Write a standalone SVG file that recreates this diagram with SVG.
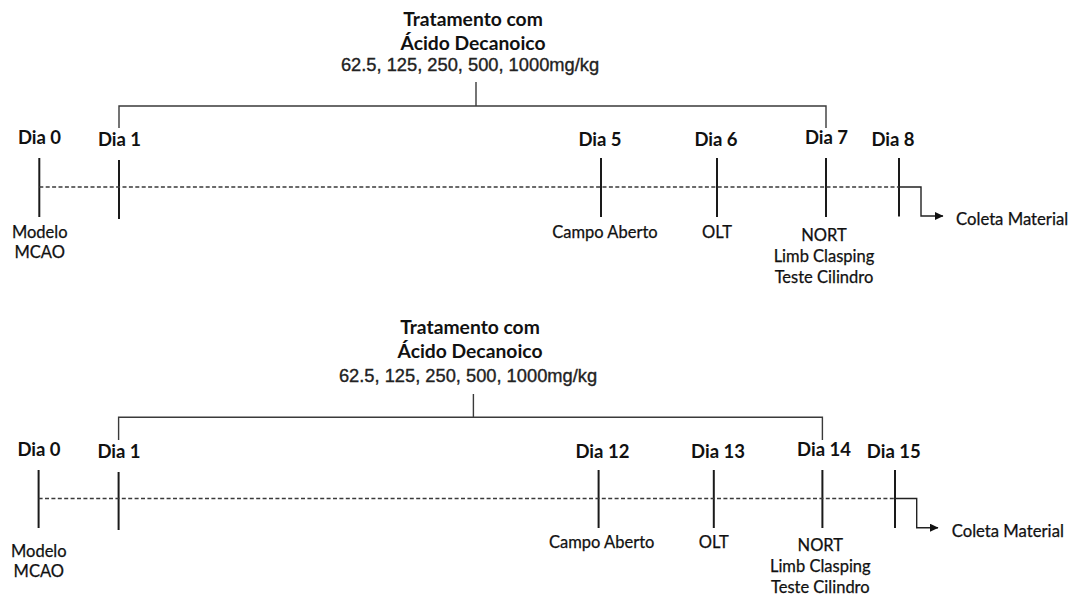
<svg xmlns="http://www.w3.org/2000/svg" width="1070" height="596" viewBox="0 0 1070 596">
<defs>
<marker id="ah" markerWidth="9" markerHeight="8" refX="8" refY="4" orient="auto" markerUnits="userSpaceOnUse">
<path d="M0,0 L8.5,4 L0,8 Z" fill="#111"/>
</marker>
<style>
.title{font-family:Lato,"Liberation Sans",sans-serif;font-weight:700;font-size:19.3px;fill:#111;text-anchor:middle}
.dose{font-family:"Liberation Sans",Arial,sans-serif;font-size:18.3px;fill:#222;stroke:#222;stroke-width:0.35;text-anchor:middle}
.day{font-family:Lato,"Liberation Sans",sans-serif;font-weight:700;font-size:18.5px;fill:#111;text-anchor:middle}
.lbl{font-family:Lato,"Liberation Sans",sans-serif;font-size:16.5px;fill:#111;stroke:#111;stroke-width:0.25;text-anchor:middle}
.lbl-l{font-family:Lato,"Liberation Sans",sans-serif;font-size:16.7px;fill:#111;stroke:#111;stroke-width:0.25}
.tick{stroke:#1a1a1a;stroke-width:2;fill:none}
.br{stroke:#3a3a3a;stroke-width:1.4;fill:none}
.dash{stroke:#3a3a3a;stroke-width:1.4;stroke-dasharray:4 2.4;fill:none}
.arr{stroke:#222;stroke-width:1.4;fill:none}
</style>
</defs>

<!-- ===== Top panel ===== -->
<g id="top-treatment">
<text class="title" x="473" y="26">Tratamento com</text>
<text class="title" x="473" y="50">Ácido Decanoico</text>
<text class="dose" x="470" y="71">62.5, 125, 250, 500, 1000mg/kg</text>
</g>
<g id="top-dia0">
<text class="day" x="39.5" y="144">Dia 0</text>
<line class="tick" x1="39.3" y1="158" x2="39.3" y2="217"/>
<text class="lbl" x="39.7" y="237.7">Modelo</text>
<text class="lbl" x="39.7" y="258.3">MCAO</text>
</g>
<g id="top-dia1">
<text class="day" x="119.5" y="146">Dia 1</text>
<line class="tick" x1="119" y1="160" x2="119" y2="219"/>
</g>
<g id="top-dia5">
<text class="day" x="600" y="146">Dia 5</text>
<line class="tick" x1="601" y1="158" x2="601" y2="217"/>
<text class="lbl" x="605" y="237.7">Campo Aberto</text>
</g>
<g id="top-dia6">
<text class="day" x="716" y="146">Dia 6</text>
<line class="tick" x1="717" y1="158" x2="717" y2="217"/>
<text class="lbl" x="717" y="237.7">OLT</text>
</g>
<g id="top-dia7">
<text class="day" x="826.5" y="143.5">Dia 7</text>
<line class="tick" x1="826" y1="158" x2="826" y2="217"/>
<text class="lbl" x="824" y="240.7">NORT</text>
<text class="lbl" x="824" y="261.7">Limb Clasping</text>
<text class="lbl" x="824" y="282.7">Teste Cilindro</text>
</g>
<g id="top-dia8">
<text class="day" x="893" y="146">Dia 8</text>
<line class="tick" x1="899" y1="158" x2="899" y2="216.5"/>
</g>
<g id="top-coleta">
<text class="lbl-l" x="956" y="225">Coleta Material</text>
</g>

<!-- ===== Bottom panel ===== -->
<g id="bottom-treatment">
<text class="title" x="470" y="334">Tratamento com</text>
<text class="title" x="470" y="358">Ácido Decanoico</text>
<text class="dose" x="468" y="381.7">62.5, 125, 250, 500, 1000mg/kg</text>
</g>
<g id="bottom-dia0">
<text class="day" x="39" y="456">Dia 0</text>
<line class="tick" x1="38.6" y1="470" x2="38.6" y2="528"/>
<text class="lbl" x="38.8" y="556.5">Modelo</text>
<text class="lbl" x="38.8" y="577">MCAO</text>
</g>
<g id="bottom-dia1">
<text class="day" x="119" y="458.3">Dia 1</text>
<line class="tick" x1="118.6" y1="472" x2="118.6" y2="530"/>
</g>
<g id="bottom-dia12">
<text class="day" x="602.4" y="458.3">Dia 12</text>
<line class="tick" x1="598.6" y1="470" x2="598.6" y2="528"/>
<text class="lbl" x="601.7" y="548.3">Campo Aberto</text>
</g>
<g id="bottom-dia13">
<text class="day" x="718" y="458.3">Dia 13</text>
<line class="tick" x1="713.8" y1="470" x2="713.8" y2="528"/>
<text class="lbl" x="713.8" y="548.3">OLT</text>
</g>
<g id="bottom-dia14">
<text class="day" x="824" y="455.5">Dia 14</text>
<line class="tick" x1="822.4" y1="470" x2="822.4" y2="528"/>
<text class="lbl" x="820.3" y="550.7">NORT</text>
<text class="lbl" x="820.3" y="571.7">Limb Clasping</text>
<text class="lbl" x="820.3" y="592.7">Teste Cilindro</text>
</g>
<g id="bottom-dia15">
<text class="day" x="893.8" y="458.3">Dia 15</text>
<line class="tick" x1="895" y1="470" x2="895" y2="528"/>
</g>
<g id="bottom-coleta">
<text class="lbl-l" x="951.7" y="536.7">Coleta Material</text>
</g>

<!-- ===== Connectors ===== -->
<g id="connectors">
<!-- top -->
<path class="br" d="M476,82 V106"/>
<path class="br" d="M119,128 V106 H826 V128"/>
<path class="dash" d="M39.3,187 H899"/>
<path class="arr" d="M899,187 H921 V216 H943" marker-end="url(#ah)"/>
<!-- bottom -->
<path class="br" d="M473.4,394 V417.3"/>
<path class="br" d="M118.6,440 V417.3 H822.4 V440"/>
<path class="dash" d="M38.6,498.5 H895"/>
<path class="arr" d="M895,498.5 H916.7 V527.7 H938" marker-end="url(#ah)"/>
</g>
</svg>
